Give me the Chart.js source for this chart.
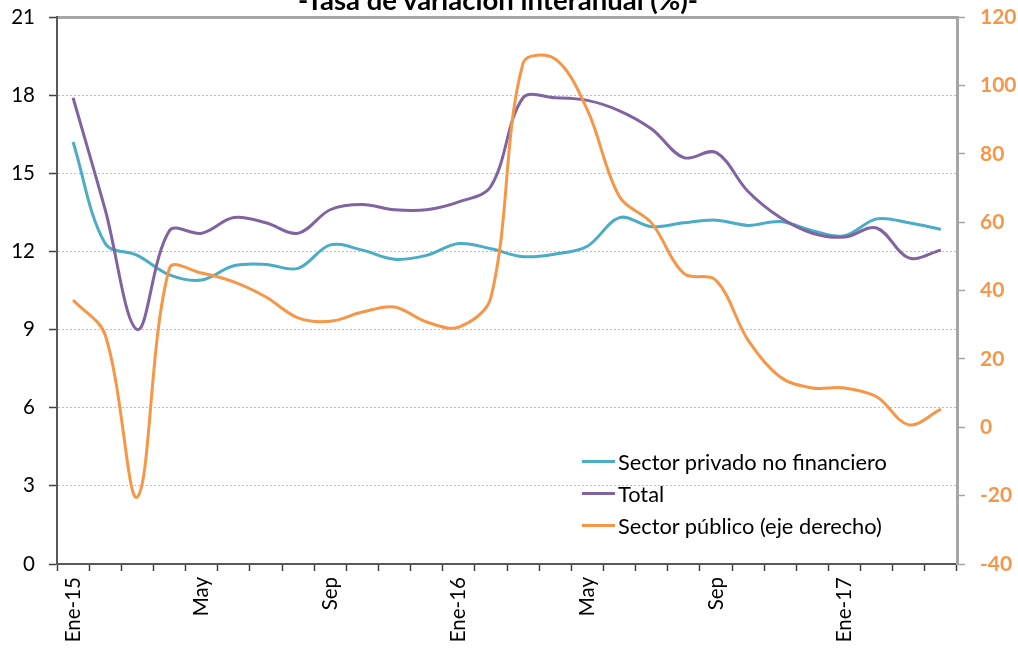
<!DOCTYPE html>
<html>
<head>
<meta charset="utf-8">
<script src="https://cdn.jsdelivr.net/npm/chart.js@4/dist/chart.umd.min.js"></script>
<style>
  html, body { margin: 0; padding: 0; background: #fff; }
  #wrap { position: relative; width: 1018px; height: 650px; overflow: hidden; }
  #title { position: absolute; left: 0; width: 996px; top: -14px; text-align: center;
           font: bold 27.5px Lato, sans-serif; line-height: 27px; color: #000; white-space: nowrap; }
  #legend { position: absolute; left: 582px; top: 445px; font: 21.8px Lato, sans-serif; color: #000; }
  .row { height: 32px; display: flex; align-items: center; white-space: nowrap; }
  .sw { width: 33px; height: 3px; margin-right: 3px; }
</style>
</head>
<body>
<div id="wrap">
  <canvas id="c" width="1018" height="650"></canvas>
  <div id="title">-Tasa de variación interanual (%)-</div>
  <div id="legend"></div>
</div>
<script>
// Categories (monthly, Ene-15 .. Abr-17)
const categories = ['Ene-15','Feb','Mar','Abr','May','Jun','Jul','Ago','Sep','Oct','Nov','Dic',
                    'Ene-16','Feb','Mar','Abr','May','Jun','Jul','Ago','Sep','Oct','Nov','Dic',
                    'Ene-17','Feb','Mar','Abr'];
// Series values
const privado = [16.2,12.3,11.85,11.1,10.9,11.45,11.5,11.35,12.25,12.05,11.7,11.85,
                 12.3,12.1,11.8,11.9,12.2,13.3,12.95,13.1,13.2,13.0,13.15,12.8,
                 12.6,13.25,13.1,12.85];
const total = [17.9,13.6,9.0,12.8,12.7,13.3,13.1,12.7,13.6,13.8,13.6,13.6,
               13.9,14.5,17.9,17.9,17.8,17.4,16.7,15.6,15.8,14.3,13.3,12.7,
               12.55,12.9,11.75,12.05];
const publico = [37.2,27,-20.4,46.5,45.1,42.5,38.1,32,31,33.7,35.2,30.8,
                 29.3,38,106.5,107.7,92.8,67.4,59.7,45,43,25.5,14.7,11.5,
                 11.5,8.9,0.7,5.3];
// Series names
const seriesNames = ['Sector privado no financiero','Total','Sector público (eje derecho)'];
// Axis ticks
const leftTicks = [0,3,6,9,12,15,18,21];
const rightTicks = [-40,-20,0,20,40,60,80,100,120];
const labelEvery = 4;

const colors = ['#4BACC6','#8064A2','#F79646'];

const mk = (label, data, color, axis) => ({
  label, data, borderColor: color, backgroundColor: color, yAxisID: axis,
  borderWidth: 3, pointRadius: 0, tension: 0.35, fill: false
});

const FONT = 'Lato, sans-serif';
const noVPad = s => { s.paddingTop = 0; s.paddingBottom = 0; };

new Chart(document.getElementById('c'), {
  type: 'line',
  data: {
    labels: categories,
    datasets: [
      mk(seriesNames[2], publico, colors[2], 'y2'),
      mk(seriesNames[1], total, colors[1], 'y'),
      mk(seriesNames[0], privado, colors[0], 'y')
    ]
  },
  options: {
    responsive: false,
    animation: false,
    layout: { padding: { top: 17, left: 0, right: 0, bottom: 0 } },
    plugins: { legend: { display: false }, tooltip: { enabled: false }, title: { display: false } },
    scales: {
      x: {
        type: 'category',
        offset: true,
        grid: { offset: true, drawOnChartArea: false, drawTicks: true, tickLength: 7,
                tickColor: '#404040', tickWidth: 1.5 },
        border: { display: true, color: '#595959', width: 2 },
        ticks: {
          autoSkip: false, minRotation: 90, maxRotation: 90, padding: 6,
          color: '#000', font: { family: FONT, size: 20.5 },
          callback: (v, i) => (i % labelEvery === 0 ? categories[i] : '')
        },
        afterFit: s => { s.height = 86; s.paddingLeft = 0; s.paddingRight = 0; }
      },
      y: {
        position: 'left',
        min: leftTicks[0], max: leftTicks[leftTicks.length - 1],
        afterBuildTicks: s => { s.ticks = leftTicks.map(v => ({ value: v })); },
        grid: {
          drawTicks: true, tickLength: 8, tickColor: '#404040', tickWidth: 1.5,
          tickBorderDash: [],
          color: c => (c.tick && c.tick.value === 21 ? '#a6a6a6' : (c.tick && c.tick.value === 0 ? 'rgba(0,0,0,0)' : '#bfbfbf')),
          lineWidth: c => (c.tick && c.tick.value === 21 ? 3 : 1)
        },
        border: { display: true, color: '#595959', width: 2,
                  dash: c => (c.tick && c.tick.value === 21 ? [] : [2, 2]) },
        ticks: { color: '#000', padding: 14, font: { family: FONT, size: 20.5 } },
        afterFit: s => { s.width = 57; noVPad(s); }
      },
      y2: {
        position: 'right',
        min: rightTicks[0], max: rightTicks[rightTicks.length - 1],
        afterBuildTicks: s => { s.ticks = rightTicks.map(v => ({ value: v })); },
        grid: { drawOnChartArea: false, drawTicks: true, tickLength: 8, tickColor: '#a6a6a6', tickWidth: 1.5 },
        border: { display: true, color: '#a6a6a6', width: 3 },
        ticks: { color: '#F79646', padding: 15, font: { family: FONT, size: 21, weight: 'bold' } },
        afterFit: s => { s.width = 61; noVPad(s); }
      }
    }
  }
});

// Legend (HTML, real text)
const leg = document.getElementById('legend');
[0,1,2].forEach(i => {
  const r = document.createElement('div'); r.className = 'row';
  const sw = document.createElement('div'); sw.className = 'sw'; sw.style.background = colors[i];
  const t = document.createElement('span'); t.textContent = seriesNames[i];
  r.appendChild(sw); r.appendChild(t); leg.appendChild(r);
});
</script>
</body>
</html>
